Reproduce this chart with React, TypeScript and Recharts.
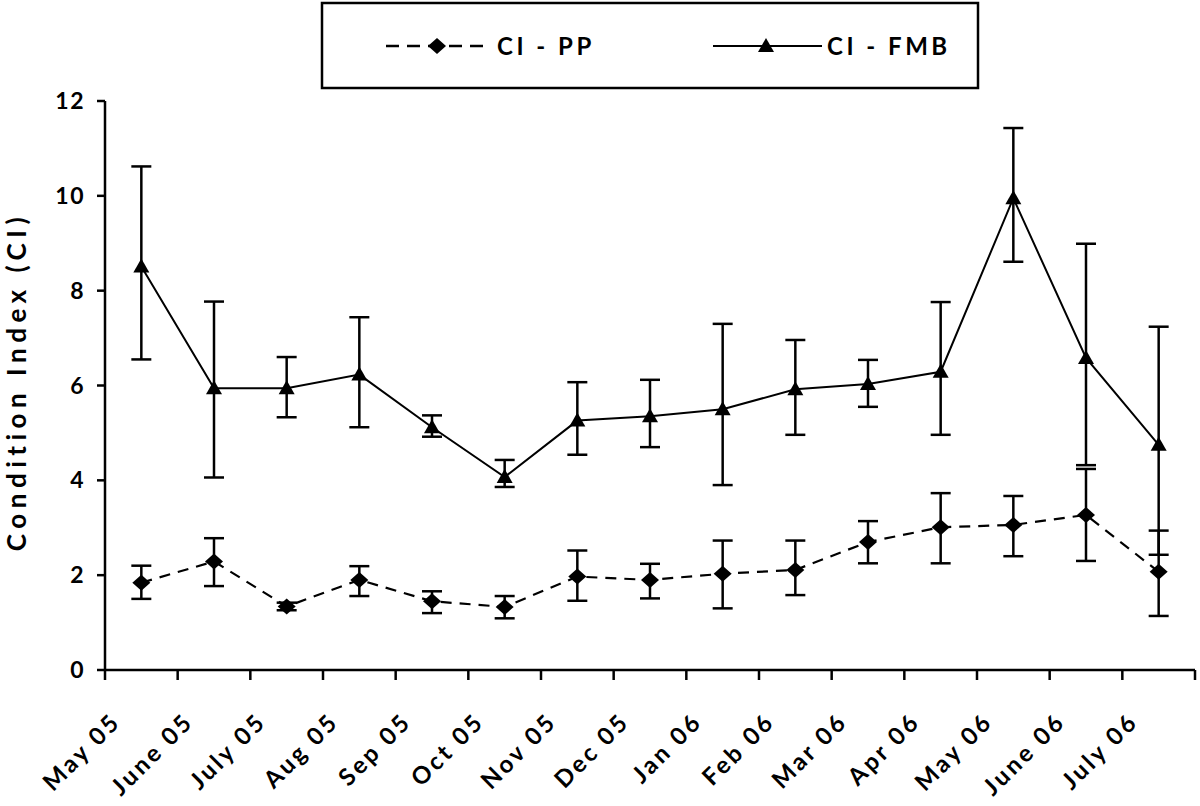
import React from 'react';
import { LineChart, Line, XAxis, YAxis, ErrorBar } from 'recharts';

const months = ['May 05', 'June 05', 'July 05', 'Aug 05', 'Sep 05', 'Oct 05', 'Nov 05', 'Dec 05', 'Jan 06', 'Feb 06', 'Mar 06', 'Apr 06', 'May 06', 'June 06', 'July 06'];

// CI - PP (diamonds, dashed)
const ppMean = [1.84, 2.29, 1.34, 1.9, 1.45, 1.33, 1.97, 1.9, 2.03, 2.11, 2.7, 3.01, 3.06, 3.27, 2.07];
const ppLow = [1.5, 1.77, 1.26, 1.56, 1.2, 1.09, 1.46, 1.51, 1.3, 1.58, 2.25, 2.25, 2.4, 2.3, 1.14];
const ppHigh = [2.2, 2.78, 1.42, 2.19, 1.66, 1.56, 2.52, 2.24, 2.73, 2.73, 3.14, 3.73, 3.67, 4.24, 2.94];

// CI - FMB (triangles, solid)
const fmbMean = [8.51, 5.94, 5.94, 6.23, 5.12, 4.07, 5.26, 5.35, 5.5, 5.92, 6.03, 6.29, 9.95, 6.58, 4.75];
const fmbLow = [6.55, 4.06, 5.33, 5.12, 4.92, 3.86, 4.54, 4.7, 3.9, 4.96, 5.55, 4.96, 8.61, 4.32, 2.43];
const fmbHigh = [10.62, 7.77, 6.6, 7.44, 5.37, 4.43, 6.07, 6.12, 7.3, 6.96, 6.54, 7.76, 11.43, 8.99, 7.24];

const yTicks = [0, 2, 4, 6, 8, 10, 12];

const FONT = 'Lato, "Open Sans", sans-serif';
const PLOT_W = 1090;
const HALF_BAND = PLOT_W / months.length / 2;

const data = months.map((month, i) => ({
    month,
    pp: ppMean[i],
    ppErr: [ppMean[i] - ppLow[i], ppHigh[i] - ppMean[i]],
    fmb: fmbMean[i],
    fmbErr: [fmbMean[i] - fmbLow[i], fmbHigh[i] - fmbMean[i]],
}));

const diamondDot = (props: any) => {
    const { cx, cy, index } = props;
    if (cx == null || cy == null) return <g key={`d-${index}`} />;
    return (
        <polygon
            key={`d-${index}`}
            points={`${cx},${cy - 8} ${cx + 9},${cy} ${cx},${cy + 8} ${cx - 9},${cy}`}
            fill="#000"
        />
    );
};

const triangleDot = (props: any) => {
    const { cx, cy, index } = props;
    if (cx == null || cy == null) return <g key={`t-${index}`} />;
    return (
        <polygon
            key={`t-${index}`}
            points={`${cx},${cy - 8} ${cx + 8},${cy + 6} ${cx - 8},${cy + 6}`}
            fill="#000"
        />
    );
};

// tick marks sit on the category boundaries, labels hang off the category centre
const XTick = (props: any) => {
    const { x, y, payload, index, visibleTicksCount } = props;
    const left = x - HALF_BAND;
    const right = x + HALF_BAND;
    return (
        <g>
            <line x1={left} x2={left} y1={y} y2={y + 10} stroke="#000" strokeWidth={2.5} />
            {index === visibleTicksCount - 1 && (
                <line x1={right} x2={right} y1={y} y2={y + 10} stroke="#000" strokeWidth={2.5} />
            )}
            <text
                transform={`translate(${x - 19},${y + 53}) rotate(-45)`}
                textAnchor="end"
                fontSize={24}
                fontWeight={700}
                letterSpacing={3}
                fill="#000"
            >
                {payload.value}
            </text>
        </g>
    );
};

const YTick = (props: any) => {
    const { x, y, payload } = props;
    return (
        <text x={x + 1} y={y + 8} textAnchor="end" fontSize={23} fontWeight={700} letterSpacing={1.5} fill="#000">
            {payload.value}
        </text>
    );
};

const YLabel = (props: any) => {
    const { viewBox } = props;
    const cy = viewBox.y + viewBox.height / 2 - 4;
    return (
        <text
            transform={`translate(26,${cy}) rotate(-90)`}
            textAnchor="middle"
            fontSize={26}
            fontWeight={700}
            letterSpacing={5.5}
            fill="#000"
        >
            Condition Index (CI)
        </text>
    );
};

const LegendBox = () => (
    <svg width={1200} height={100} style={{ position: 'absolute', left: 0, top: 0, fontFamily: FONT }}>
        <rect x={322} y={3} width={656} height={85} fill="none" stroke="#000" strokeWidth={2.5} />
        <line x1={386} x2={486} y1={46} y2={46} stroke="#000" strokeWidth={2.5} strokeDasharray="13 8" />
        <polygon points="437,38 446,46 437,54 428,46" fill="#000" />
        <text x={497} y={55} fontSize={24} fontWeight={700} letterSpacing={3.5}>CI - PP</text>
        <line x1={713} x2={822} y1={46} y2={46} stroke="#000" strokeWidth={2} />
        <polygon points="766,38 774,52 758,52" fill="#000" />
        <text x={827} y={55} fontSize={24} fontWeight={700} letterSpacing={3.5}>CI - FMB</text>
    </svg>
);

export default function App() {
    return (
        <div style={{ position: 'absolute', left: 0, top: 0, width: 1200, height: 806, background: '#fff', fontFamily: FONT }}>
            <LineChart width={1200} height={806} data={data} margin={{ top: 101, right: 5, left: 45, bottom: 16 }}>
                <XAxis
                    dataKey="month"
                    interval={0}
                    height={120}
                    padding={{ left: HALF_BAND, right: HALF_BAND }}
                    tickLine={false}
                    tickSize={0}
                    tickMargin={0}
                    tick={<XTick />}
                    axisLine={{ stroke: '#000', strokeWidth: 2.5 }}
                />
                <XAxis
                    xAxisId="top"
                    dataKey="month"
                    orientation="top"
                    height={0}
                    tick={false}
                    tickLine={false}
                    axisLine={{ stroke: '#000', strokeWidth: 2.5 }}
                />
                <YAxis
                    domain={[0, 12]}
                    ticks={yTicks}
                    width={60}
                    tickSize={8}
                    tickMargin={13}
                    tickLine={{ stroke: '#000', strokeWidth: 2.5 }}
                    axisLine={{ stroke: '#000', strokeWidth: 2.5 }}
                    tick={<YTick />}
                    label={{ content: <YLabel /> }}
                />
                <YAxis
                    yAxisId="right"
                    orientation="right"
                    domain={[0, 12]}
                    width={0}
                    tick={false}
                    tickLine={false}
                    axisLine={{ stroke: '#000', strokeWidth: 2.5 }}
                />
                <Line
                    dataKey="fmb"
                    stroke="#000"
                    strokeWidth={2}
                    dot={triangleDot}
                    activeDot={false}
                    isAnimationActive={false}
                >
                    <ErrorBar dataKey="fmbErr" direction="y" width={10} stroke="#000" strokeWidth={2.5} isAnimationActive={false} />
                </Line>
                <Line
                    dataKey="pp"
                    stroke="#000"
                    strokeWidth={2.2}
                    strokeDasharray="11 8"
                    dot={diamondDot}
                    activeDot={false}
                    isAnimationActive={false}
                >
                    <ErrorBar dataKey="ppErr" direction="y" width={10} stroke="#000" strokeWidth={2.5} isAnimationActive={false} />
                </Line>
            </LineChart>
            <LegendBox />
        </div>
    );
}
